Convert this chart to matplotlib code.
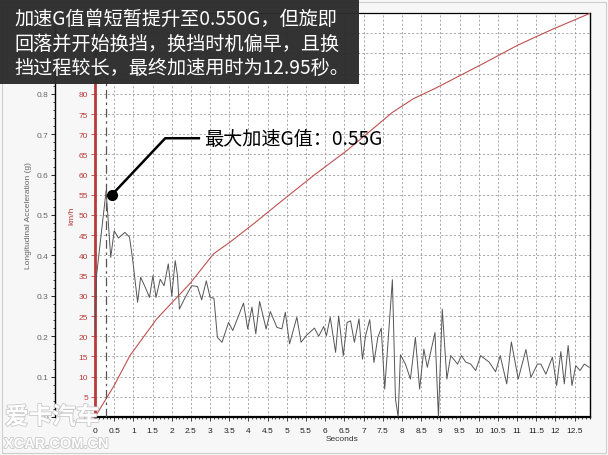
import numpy as np
import matplotlib
matplotlib.use("Agg")
import matplotlib.pyplot as plt
import matplotlib.patheffects as pe
from matplotlib.patches import Rectangle
from matplotlib.ticker import MultipleLocator

# acceleration trace (g)
acc_t = [0.0, 0.04, 0.17, 0.29, 0.41, 0.50, 0.61, 0.78, 0.90, 0.98, 1.11, 1.19, 1.31, 1.42,
         1.51, 1.59, 1.70, 1.80, 1.91, 2.00, 2.09, 2.15, 2.20, 2.35, 2.52, 2.67, 2.78, 2.90,
         3.00, 3.10, 3.19, 3.31, 3.48, 3.59, 3.87, 3.98, 4.09, 4.19, 4.29, 4.46, 4.57, 4.74,
         4.87, 4.96, 5.07, 5.26, 5.37, 5.52, 5.72, 5.83, 5.96, 6.03, 6.13, 6.27, 6.35, 6.47,
         6.57, 6.66, 6.76, 6.88, 6.97, 7.05, 7.16, 7.27, 7.37, 7.46, 7.55, 7.75, 7.83, 7.90,
         7.96, 8.09, 8.22, 8.35, 8.46, 8.57, 8.66, 8.86, 8.95, 9.05, 9.17, 9.27, 9.45, 9.55,
         9.66, 9.79, 9.92, 10.05, 10.27, 10.44, 10.56, 10.73, 10.85, 11.03, 11.23, 11.36,
         11.53, 11.62, 11.75, 11.92, 12.03, 12.14, 12.23, 12.33, 12.43, 12.53, 12.64, 12.75,
         12.88]
acc_g = [0.20, 0.35, 0.46, 0.56, 0.395, 0.461, 0.443, 0.457, 0.445, 0.391, 0.284, 0.346,
         0.321, 0.296, 0.350, 0.296, 0.341, 0.325, 0.379, 0.300, 0.387, 0.350, 0.267, 0.296,
         0.325, 0.323, 0.290, 0.337, 0.296, 0.294, 0.197, 0.185, 0.234, 0.214, 0.282, 0.218,
         0.272, 0.206, 0.286, 0.218, 0.261, 0.222, 0.218, 0.259, 0.181, 0.247, 0.185, 0.203,
         0.220, 0.200, 0.224, 0.201, 0.247, 0.160, 0.250, 0.152, 0.234, 0.238, 0.185, 0.243,
         0.143, 0.201, 0.241, 0.135, 0.197, 0.220, 0.069, 0.340, 0.045, 0.0, 0.154, 0.131,
         0.094, 0.197, 0.069, 0.168, 0.123, 0.209, 0.0, 0.267, 0.094, 0.152, 0.131, 0.152,
         0.136, 0.131, 0.115, 0.152, 0.136, 0.112, 0.152, 0.082, 0.186, 0.094, 0.167, 0.098,
         0.131, 0.131, 0.106, 0.148, 0.078, 0.162, 0.082, 0.177, 0.078, 0.127, 0.115, 0.131,
         0.123]

# speed trace (km/h)
spd_t = [0.0, 0.5, 0.91, 1.61, 2.48, 3.09, 3.52, 4.13, 4.83, 5.70, 6.57, 7.35, 7.75, 8.30,
         8.92, 10.14, 11.01, 11.88, 12.92]
spd_kmh = [0.0, 7.8, 15.2, 24.3, 33.1, 40.4, 43.3, 47.8, 53.2, 59.8, 66.0, 72.2, 75.4, 78.8,
           81.6, 87.6, 92.0, 95.8, 100.0]

peak_label = "最大加速G值：0.55G"
title_lines = "加速G值曾短暂提升至0.550G，但旋即\n回落并开始换挡，换挡时机偏早，且换\n挡过程较长，最终加速用时为12.95秒。"

plt.rcParams["font.family"] = ["Liberation Sans", "DejaVu Sans"]
cjk = ["Noto Sans CJK SC", "DejaVu Sans"]
red = "#b83a3a"
gray_txt = "#666666"

fig = plt.figure(figsize=(6.08, 4.56), dpi=100, facecolor="#f7f7f7")
ax = fig.add_axes([95 / 608, 38 / 456, 495 / 608, 404 / 456])
ax.set_facecolor("white")

# speed axis (km/h)
ax.plot(spd_t, spd_kmh, color="#c05050", lw=0.8, zorder=3)
ax.set_xlim(0, 12.9)
ax.set_ylim(0, 100)
xt = np.arange(0, 13, 0.5)
ax.set_xticks(xt)
ax.set_xticklabels(["%g" % v for v in xt])
ax.xaxis.set_minor_locator(MultipleLocator(0.1))
yt = np.arange(0, 101, 5)
ax.set_yticks(yt)
# labels above 80 sit under the caption box
ax.set_yticklabels(["%d" % v if v <= 80 else "" for v in yt])
ax.grid(True, which="major", color="#9a9a9a", ls=(0, (2.5, 2.5)), lw=0.6)
ax.tick_params(axis="x", which="major", length=3, width=0.6, labelsize=6, pad=4,
               colors="#222222")
ax.tick_params(axis="x", which="minor", length=1.5, width=0.5)
ax.tick_params(axis="y", which="major", length=3, width=0.6, labelsize=6, pad=2,
               colors=red, labelcolor=red)
ax.spines["left"].set_color(red)
ax.spines["left"].set_linewidth(2.0)
ax.spines["bottom"].set_linewidth(1.6)
ax.spines["top"].set_linewidth(0.9)
ax.spines["right"].set_linewidth(1.0)
ax.set_ylabel("km/h", color=red, fontsize=6, labelpad=2)
ax.set_xlabel("Seconds", fontsize=6, color="#333333", labelpad=1)

# acceleration axis (g), outside on the left
ax2 = ax.twinx()
ax2.set_ylim(0, 1.0)
ax2.yaxis.set_ticks_position("left")
ax2.yaxis.set_label_position("left")
ax2.spines["left"].set_visible(True)
ax2.spines["left"].set_position(("outward", 28.8))
ax2.spines["left"].set_linewidth(1.0)
for s in ("right", "top", "bottom"):
    ax2.spines[s].set_visible(False)
gt = np.arange(0, 0.81, 0.1)
ax2.set_yticks(gt)
ax2.set_yticklabels(["%g" % round(v, 1) for v in gt])
ax2.yaxis.set_minor_locator(MultipleLocator(0.02))
ax2.tick_params(axis="y", which="major", length=3, width=0.6, labelsize=6, pad=2,
                labelcolor=gray_txt)
ax2.tick_params(axis="y", which="minor", length=1.5, width=0.5)
ax2.set_ylabel("Longitudinal Acceleration (g)", fontsize=6, color=gray_txt, labelpad=3)

ax2.plot(acc_t, acc_g, color="#555555", lw=0.7, zorder=4)

# marker for the peak
i_pk = int(np.argmax(acc_g))
ax2.axvline(acc_t[i_pk], color="#555555", lw=0.9, ls=(0, (7, 3, 2, 3)), zorder=2)
dot_x, dot_y = acc_t[i_pk] + 0.15, 0.55
ax2.plot([dot_x, 1.83, 2.74], [dot_y, 0.69, 0.69], color="black", lw=1.8, zorder=6,
         solid_capstyle="butt")
ax2.plot([dot_x], [dot_y], "o", color="black", ms=7, zorder=7)
ax2.text(2.84, 0.69, peak_label, family=cjk, fontsize=13.8, va="center", ha="left",
         color="black", zorder=7)

# dark caption box
fig.patches.append(Rectangle((0, 1 - 85 / 456), 359 / 608, 85 / 456,
                             transform=fig.transFigure, facecolor="#2c2c2c",
                             edgecolor="none", alpha=0.97, zorder=10))
fig.text(14 / 608, 1 - 44 / 456, title_lines, family=cjk, fontsize=13.8, color="white",
         va="center", ha="left", linespacing=1.2, zorder=11)

# watermark
wm_fx = [pe.withStroke(linewidth=1.2, foreground="#c8c8c8")]
fig.text(5 / 608, 1 - 418 / 456, "爱卡汽车", family=cjk, fontsize=17, fontweight="bold",
         color="white", va="center", ha="left", zorder=12, path_effects=wm_fx)
fig.text(4 / 608, 1 - 445 / 456, "XCAR.COM.CN", fontsize=10.5, fontweight="bold",
         color="white", va="center", ha="left", zorder=12, path_effects=wm_fx)

# thin frame around the picture
fig.patches.append(Rectangle((0.003, 0.004), 0.993, 0.99, transform=fig.transFigure,
                             facecolor="none", edgecolor="#cfcfcf", lw=0.8, zorder=1))

fig.savefig("out.png", dpi=100, facecolor=fig.get_facecolor())
